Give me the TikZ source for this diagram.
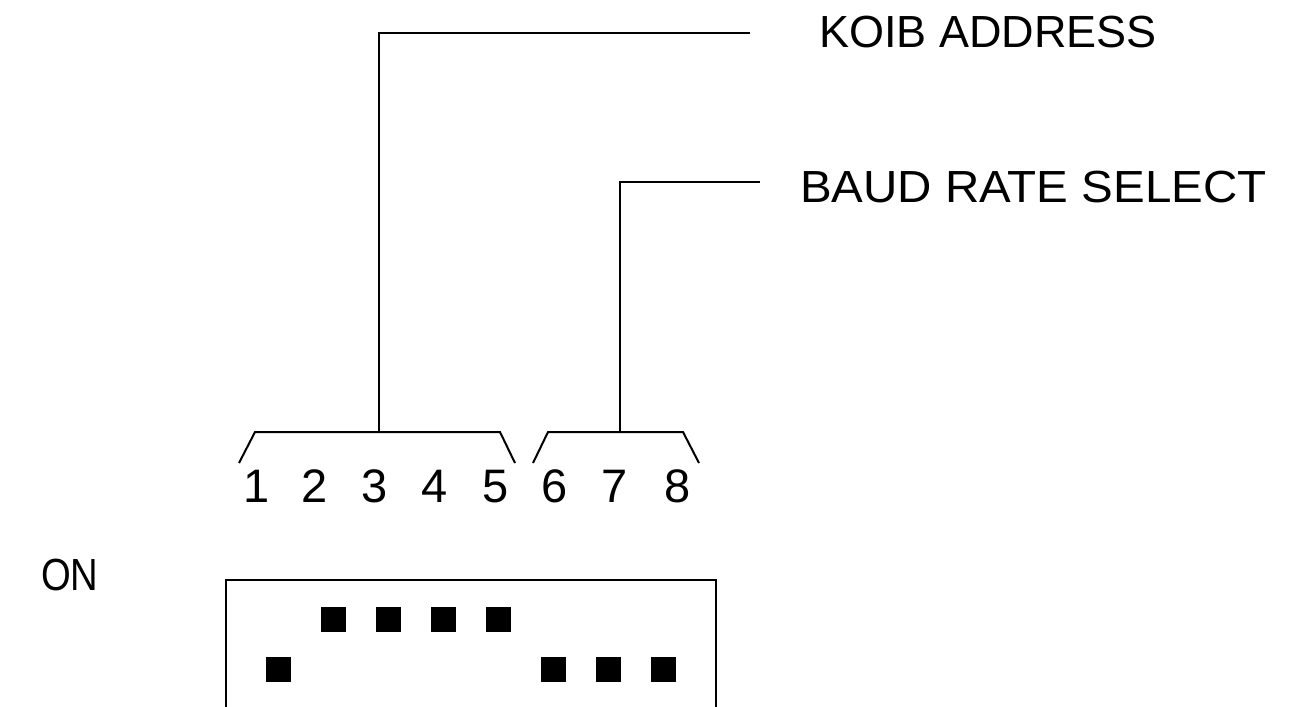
\documentclass[tikz,border=0pt]{standalone}
\usepackage{fontspec}
\setmainfont{Liberation Sans}
\begin{document}
\begin{tikzpicture}[x=1pt,y=-1pt,
  wire/.style={line width=2pt,line join=miter},
  lbl/.style={inner sep=0pt,outer sep=0pt,anchor=base west,font=\fontsize{45}{45}\selectfont},
  num/.style={inner sep=0pt,outer sep=0pt,anchor=base,font=\fontsize{47}{47}\selectfont},
  sw/.style={fill=black,draw=none,minimum size=25pt,inner sep=0pt}]
\useasboundingbox (0,0) rectangle (1313,706);
% labels
\node[lbl] (koib) at (819,48) {KOIB ADDRESS};
\node[lbl] (baud) at (800,202) {\scalebox{1.056}[1]{BAUD RATE SELECT}};
\node[lbl] (on) at (41,590) {\scalebox{0.85}[1]{ON}};
% digits
\foreach \x/\d in {257/1,315/2,375/3,435/4,496/5,555/6,615/7,678/8}
  \node[num] (d\d) at (\x,502) {\d};
% brackets
\coordinate (b1) at (379,432);
\coordinate (b2) at (620,432);
\coordinate (e1) at (750,33);
\coordinate (e2) at (760,182);
\draw[wire] (239,463) -- (255,432) -- (500,432) -- (515,463);
\draw[wire] (533,463) -- (548,432) -- (683,432) -- (699,463);
% leader lines
\draw[wire] (b1) |- (e1);
\draw[wire] (b2) |- (e2);
% switch body
\draw[wire] (226,707) -- (226,580) -- (716,580) -- (716,707);
% switch positions
\foreach \i/\y in {1/669.5,2/619.5,3/619.5,4/619.5,5/619.5,6/669.5,7/669.5,8/669.5}
  \node[sw] (s\i) at ({278+55*(\i-1)},\y) {};
\end{tikzpicture}
\end{document}
